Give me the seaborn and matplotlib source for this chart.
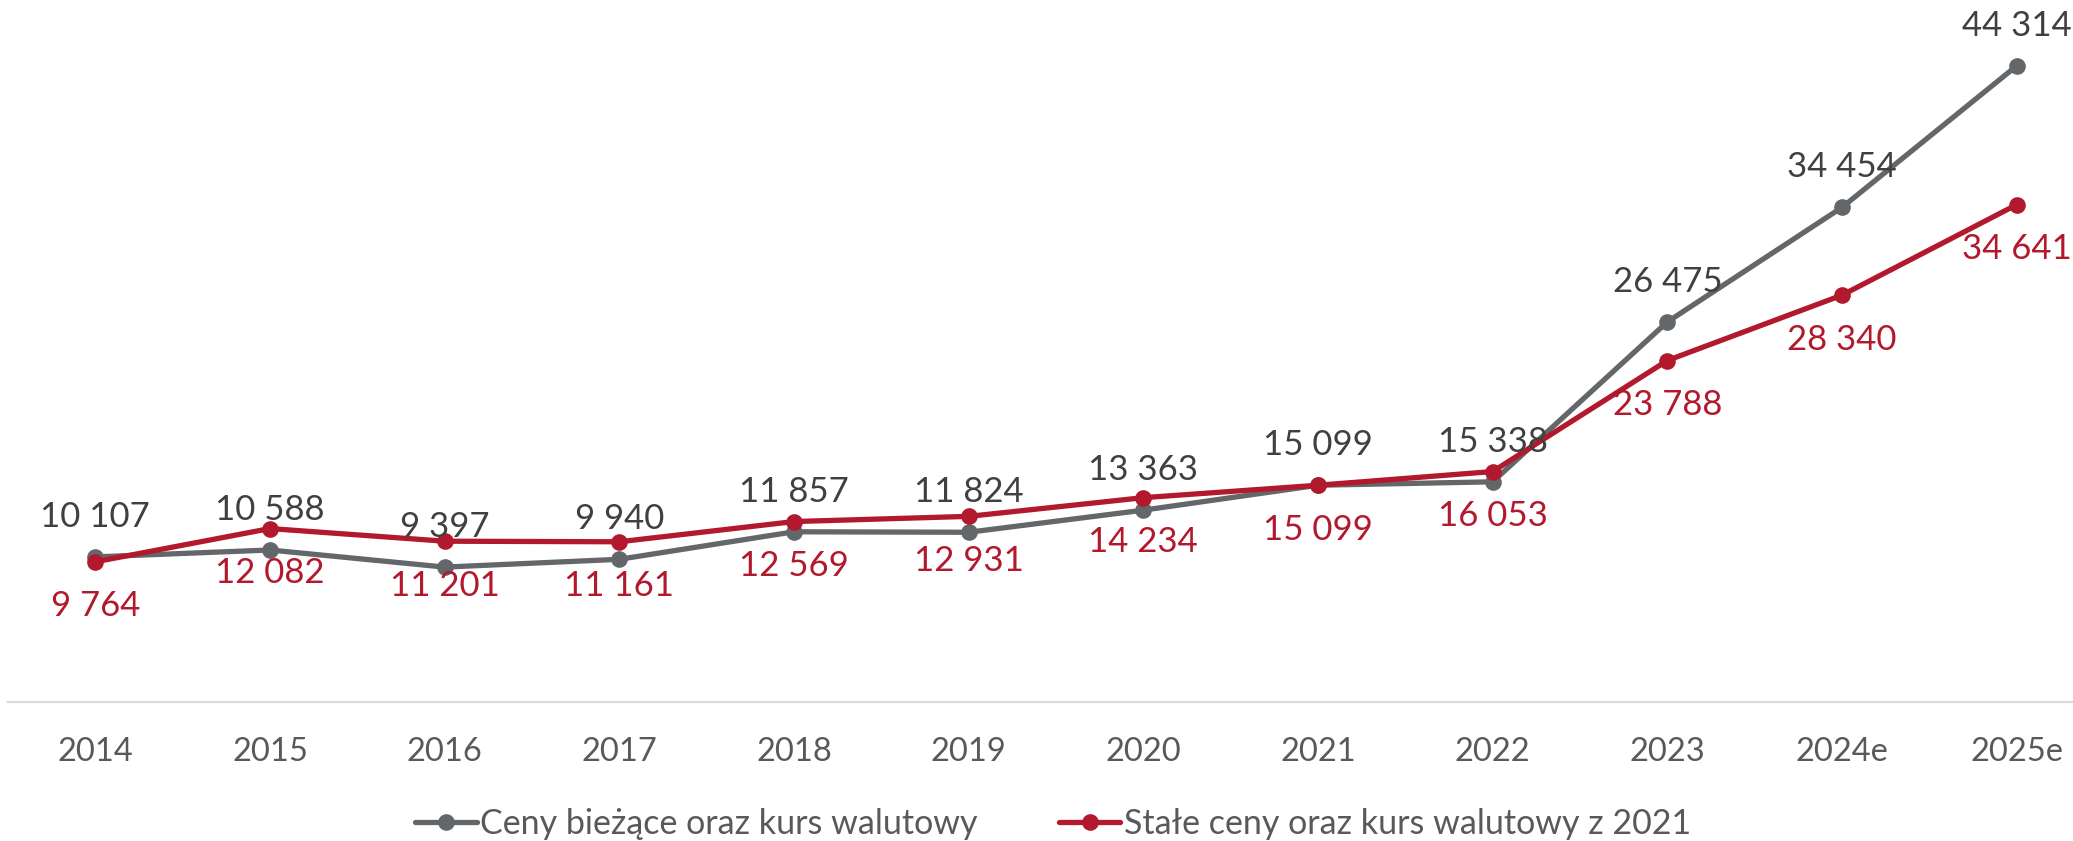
import matplotlib
matplotlib.use("Agg")
import matplotlib.pyplot as plt
import seaborn as sns
import pandas as pd

years = ["2014", "2015", "2016", "2017", "2018", "2019", "2020", "2021", "2022", "2023", "2024e", "2025e"]
current_prices = [10107, 10588, 9397, 9940, 11857, 11824, 13363, 15099, 15338, 26475, 34454, 44314]
constant_prices = [9764, 12082, 11201, 11161, 12569, 12931, 14234, 15099, 16053, 23788, 28340, 34641]
series_names = ["Ceny bieżące oraz kurs walutowy", "Stałe ceny oraz kurs walutowy z 2021"]

GREY = "#63676A"
RED = "#B3192C"
TXT = "#595959"
LBL = "#404040"

sns.set_theme(style="white")
plt.rcParams["font.family"] = ["Lato", "DejaVu Sans"]

df = pd.concat([
    pd.DataFrame({"year": years, "value": current_prices, "series": series_names[0]}),
    pd.DataFrame({"year": years, "value": constant_prices, "series": series_names[1]}),
])

fig = plt.figure(figsize=(20.73, 8.41), dpi=100)
ax = fig.add_axes([8 / 2073, 139 / 841, 2096 / 2073, 702 / 841])

sns.lineplot(data=df, x="year", y="value", hue="series", palette=[GREY, RED],
             marker="o", markersize=12, markeredgewidth=0, linewidth=3.8,
             sort=False, ax=ax, legend=True)

ax.set_xlim(-0.5, 11.5)
ax.set_ylim(0, 48900)
ax.set_yticks([])
ax.set_xlabel("")
ax.set_ylabel("")
for s in ["top", "right", "left"]:
    ax.spines[s].set_visible(False)
ax.spines["bottom"].set_color("#D9D9D9")
ax.spines["bottom"].set_linewidth(1.6)
ax.tick_params(axis="x", length=0, pad=25, labelsize=23.5, labelcolor=TXT)

def fmt(v):
    return f"{v:,}".replace(",", " ")

for i, v in enumerate(current_prices):
    ax.annotate(fmt(v), (i, v), xytext=(0, 29), textcoords="offset points",
                ha="center", va="center", fontsize=25, color=LBL, annotation_clip=False)
for i, v in enumerate(constant_prices):
    ax.annotate(fmt(v), (i, v), xytext=(0, -32), textcoords="offset points",
                ha="center", va="center", fontsize=25, color=RED, annotation_clip=False)

handles, labels = ax.get_legend_handles_labels()
ax.legend_.remove()
leg = fig.legend(handles, labels, loc="center", bbox_to_anchor=(0.508, 0.02),
                 ncol=2, frameon=False, fontsize=24.5, handlelength=1.8,
                 handletextpad=0.1, columnspacing=2.4, labelcolor=TXT)
for h in leg.legend_handles:
    h.set_linewidth(3.8)
    h.set_markersize(12)

fig.savefig("out.png", dpi=100)
